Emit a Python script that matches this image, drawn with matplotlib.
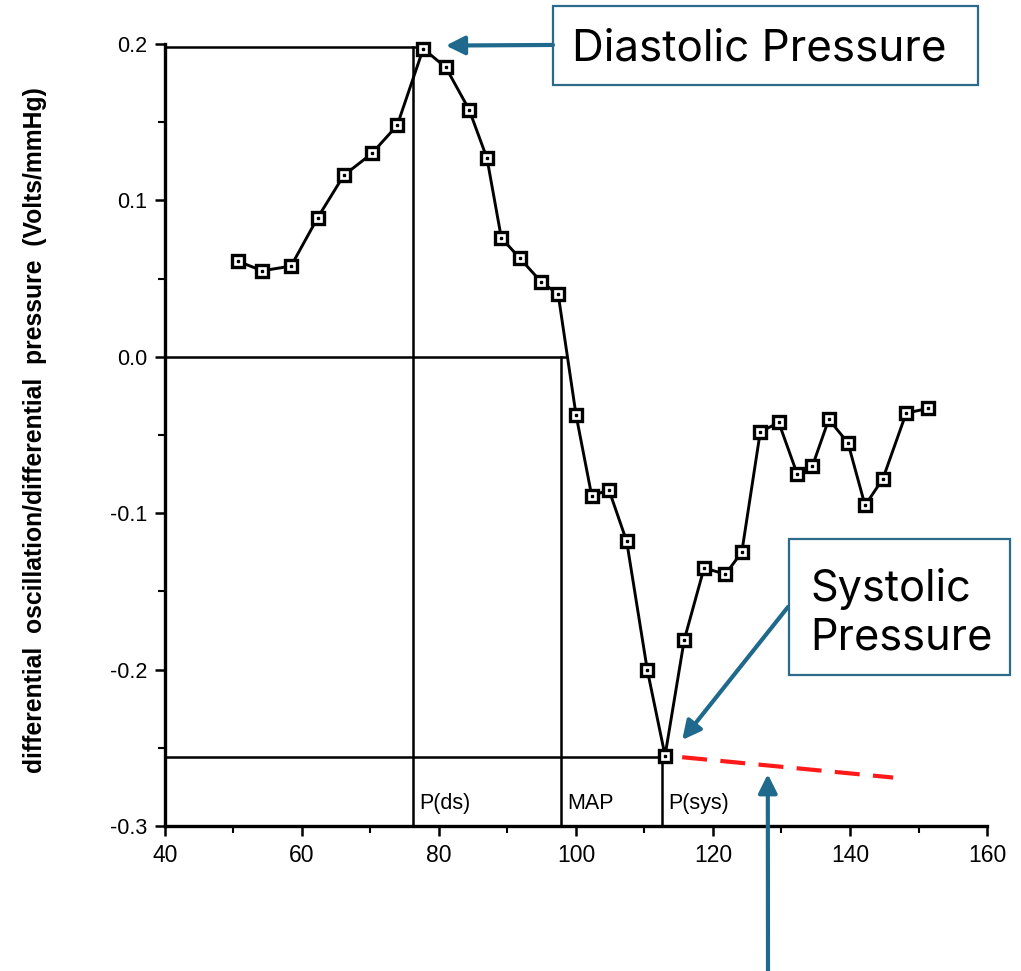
import matplotlib.pyplot as plt
from matplotlib.patches import Rectangle

# cuff pressure (mmHg) vs differential oscillation / differential pressure
pressure = [50.7, 54.2, 58.4, 62.3, 66.1, 70.2, 73.9, 77.7, 81.0, 84.4, 87.0, 89.1,
            91.8, 94.9, 97.4, 100.0, 102.3, 104.8, 107.4, 110.4, 113.0, 115.8, 118.7,
            121.8, 124.2, 126.9, 129.6, 132.3, 134.5, 136.9, 139.7, 142.2, 144.8,
            148.2, 151.4]
ratio = [0.061, 0.055, 0.058, 0.089, 0.116, 0.130, 0.148, 0.197, 0.185, 0.158, 0.127,
         0.076, 0.063, 0.048, 0.040, -0.037, -0.089, -0.085, -0.118, -0.200, -0.255,
         -0.181, -0.135, -0.139, -0.125, -0.048, -0.042, -0.075, -0.070, -0.040,
         -0.055, -0.095, -0.078, -0.036, -0.033]

# reference lines: (x position, level) for P(ds), MAP, P(sys)
ref_names = ['P(ds)', 'MAP', 'P(sys)']
ref_x = [76.2, 97.8, 112.5]
ref_level = [0.198, 0.0, -0.256]
ref_hline_end = [77.7, 98.5, 113.0]

# red dashed trend line after the systolic point
trend_x = [115.5, 146.3]
trend_y = [-0.256, -0.269]

# annotation arrow tips (data coords)
dia_tip = (81.0, 0.199)
sys_tip = (115.5, -0.245)
up_tip = (128.0, -0.2668)

ARROW_COL = '#1f6a8c'
BOX_COL = '#2b6a8a'

fig = plt.figure(figsize=(10.21, 9.71), dpi=100)
ax = fig.add_axes([0.1616, 0.1493, 0.8051, 0.8054])

for name, x, lev, xe in zip(ref_names, ref_x, ref_level, ref_hline_end):
    ax.plot([x, x], [-0.3, lev], color='black', lw=1.8, clip_on=False)
    ax.plot([40, xe], [lev, lev], color='black', lw=1.8, clip_on=False)
    ax.text(x + 0.9, -0.289, name, fontsize=15.5, family='Liberation Sans',
            ha='left', va='baseline')

ax.plot(pressure, ratio, color='black', lw=2.1, marker='s', ms=9, mfc='white',
        mec='black', mew=2.4, clip_on=False, zorder=3)
ax.plot(pressure, ratio, ls='none', marker='s', ms=2, color='black', zorder=4,
        clip_on=False)

ax.plot(trend_x, trend_y, color='#ff1a1a', lw=3, dashes=(6, 3.2), clip_on=False)

ax.set_xlim(40, 160)
ax.set_ylim(-0.3, 0.2)
for s in ['top', 'right']:
    ax.spines[s].set_visible(False)
for s in ['left', 'bottom']:
    ax.spines[s].set_linewidth(2.4)

ax.set_xticks(range(40, 161, 20))
ax.set_xticks(range(50, 160, 20), minor=True)
ax.set_yticks([-0.3, -0.2, -0.1, 0.0, 0.1, 0.2])
ax.set_yticklabels(['-0.3', '-0.2', '-0.1', '0.0', '0.1', '0.2'])
ax.set_yticks([-0.25, -0.15, -0.05, 0.05, 0.15], minor=True)
ax.tick_params(which='major', length=7, width=1.8, pad=6)
ax.tick_params(which='minor', length=5, width=1.5)
ax.tick_params(axis='x', labelsize=16.5)
ax.tick_params(axis='y', labelsize=15.5)
for lab in ax.get_xticklabels() + ax.get_yticklabels():
    lab.set_family('Liberation Sans')

fig.text(0.034, 0.557, 'differential  oscillation/differential  pressure  (Volts/mmHg)',
         rotation=90, ha='center', va='center', fontsize=17.8, fontweight='bold',
         family='Liberation Sans')

# callout boxes
fig.add_artist(Rectangle((0.5416, 0.9125), 0.4163, 0.0814, transform=fig.transFigure,
                         fill=False, ec=BOX_COL, lw=1.6))
fig.text(0.5602, 0.9382, 'Diastolic Pressure', fontsize=31.7, family='Inter',
         ha='left', va='baseline')
fig.add_artist(Rectangle((0.7728, 0.3048), 0.2165, 0.1401, transform=fig.transFigure,
                         fill=False, ec=BOX_COL, lw=1.6))
fig.text(0.7933, 0.3306, 'Systolic\nPressure', fontsize=31.2, family='Inter',
         ha='left', va='baseline', linespacing=1.25)

arrow = dict(arrowstyle='-|>,head_length=0.8,head_width=0.4', mutation_scale=14,
             lw=3, color=ARROW_COL, shrinkA=0, shrinkB=0)
ax.annotate('', xy=dia_tip, xycoords='data', xytext=(0.5416, 0.9537),
            textcoords='figure fraction', arrowprops=arrow, annotation_clip=False)
ax.annotate('', xy=sys_tip, xycoords='data', xytext=(0.7718, 0.3749),
            textcoords='figure fraction', arrowprops=arrow, annotation_clip=False)
ax.annotate('', xy=up_tip, xycoords='data', xytext=(0.7522, 0.0),
            textcoords='figure fraction', arrowprops=arrow, annotation_clip=False)

fig.savefig('out.png', dpi=100)
